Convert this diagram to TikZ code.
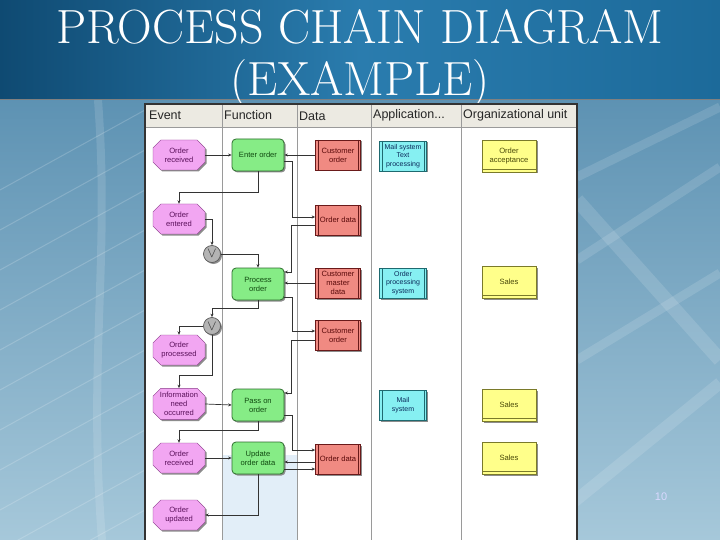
\documentclass[tikz,border=0pt]{standalone}
\usepackage{fontspec}
\usetikzlibrary{positioning,arrows.meta,shapes.misc,shadows}
\newfontfamily\diafont{Liberation Sans}

\definecolor{titleDark}{HTML}{0F4A72}
\definecolor{titleMid}{HTML}{2A7CAE}
\definecolor{titleRight}{HTML}{1C6A9A}
\definecolor{bgTop}{HTML}{4D86AA}
\definecolor{bgBottom}{HTML}{A6C8DA}
\definecolor{headFill}{HTML}{ECEAE2}
\definecolor{colLine}{HTML}{9A9A9A}
\definecolor{fnTint}{HTML}{E2EEF8}
\definecolor{evFill}{HTML}{F2A6F2}
\definecolor{evLine}{HTML}{8A3A8A}
\definecolor{evText}{HTML}{5A105A}
\definecolor{fnFill}{HTML}{86EC86}
\definecolor{fnLine}{HTML}{2E6E2E}
\definecolor{fnText}{HTML}{104A10}
\definecolor{dtFill}{HTML}{F08A82}
\definecolor{dtLine}{HTML}{6A1A1A}
\definecolor{dtText}{HTML}{5A0A0A}
\definecolor{apFill}{HTML}{86F0F2}
\definecolor{apLine}{HTML}{1E6A70}
\definecolor{apText}{HTML}{0A2A5A}
\definecolor{ouFill}{HTML}{FFFF8A}
\definecolor{ouLine}{HTML}{7A7A2A}
\definecolor{ouText}{HTML}{4A4A0A}
\definecolor{opFill}{HTML}{B4B4B4}

\tikzset{
  boxshadow/.style={drop shadow={shadow xshift=1.5pt,shadow yshift=-1.5pt,fill=black!45,opacity=1}},
  event/.style={chamfered rectangle, chamfered rectangle xsep=5pt, draw=evLine, fill=evFill,
    text=evText, minimum width=52pt, minimum height=30pt, boxshadow},
  func/.style={rectangle, rounded corners=4pt, draw=fnLine, line width=0.8pt, fill=fnFill,
    text=fnText, minimum width=52pt, minimum height=32pt, boxshadow},
  datum/.style={rectangle, draw=dtLine, line width=0.7pt, fill=dtFill, text=dtText,
    minimum width=45pt, minimum height=30pt, boxshadow,
    path picture={
      \draw[dtLine] ([xshift=2.5pt]path picture bounding box.north west) -- ([xshift=2.5pt]path picture bounding box.south west);
      \draw[dtLine] ([xshift=-2.5pt]path picture bounding box.north east) -- ([xshift=-2.5pt]path picture bounding box.south east);}},
  appl/.style={rectangle, draw=apLine, line width=0.7pt, fill=apFill, text=apText,
    minimum width=47pt, minimum height=30pt, boxshadow, font=\diafont\fontsize{7}{8.5}\selectfont,
    path picture={
      \draw[apLine] ([xshift=2.5pt]path picture bounding box.north west) -- ([xshift=2.5pt]path picture bounding box.south west);
      \draw[apLine] ([xshift=-2.5pt]path picture bounding box.north east) -- ([xshift=-2.5pt]path picture bounding box.south east);}},
  orgunit/.style={rectangle, draw=ouLine, line width=0.7pt, fill=ouFill, text=ouText,
    minimum width=54pt, minimum height=32pt, boxshadow,
    path picture={
      \draw[ouLine] ([yshift=3pt]path picture bounding box.south west) -- ([yshift=3pt]path picture bounding box.south east);}},
  operator/.style={circle, draw=black!65, line width=0.7pt, fill=opFill, minimum size=17pt, inner sep=0pt,
    font=\fontsize{15}{15}\selectfont, text=black!80, boxshadow},
  flow/.style={draw=black!80, line width=0.7pt, -{Stealth[length=3.5pt,width=3pt]}},
  headtext/.style={anchor=west, text=black!85, font=\diafont\fontsize{12.5}{14}\selectfont},
  titletext/.style={text=white, font=\rmfamily\fontsize{48}{52}\selectfont},
  stripe/.style={white, opacity=0.13, line width=9pt},
  thinstripe/.style={white, opacity=0.18, line width=1pt},
}

\begin{document}
\begin{tikzpicture}[x=1pt,y=-1pt,
  every node/.style={font=\diafont\fontsize{7.6}{9}\selectfont, align=center, inner sep=1pt}]
\useasboundingbox (0,0) rectangle (720,540);

% slide background
\shade[top color=bgTop, bottom color=bgBottom] (0,0) rectangle (720,540);
\foreach \ya/\yb in {177/107, 260/167, 360/273}
  \draw[stripe] (577,\ya) -- (720,\yb);
\draw[stripe, line width=14pt] (577,200) -- (720,360);
\draw[stripe, line width=12pt] (570,505) -- (720,383);
\foreach \k in {0,...,10}
  \draw[thinstripe] (0,190+40*\k) -- (145,110+40*\k);
\draw[stripe, line width=8pt] (98,100) .. controls (110,260) and (88,360) .. (102,540);
\shade[left color=titleDark, right color=titleRight, middle color=titleMid] (0,0) rectangle (720,100);
\draw[black!50, line width=1pt] (0,100) -- (720,100);

% title
\node[titletext] (title) at (360,59) {PROCESS CHAIN DIAGRAM\\(EXAMPLE)};

% diagram frame and lanes
\fill[white] (145,104) rectangle (577,540);
\fill[fnTint] (222,455) rectangle (297,540);
\fill[headFill] (145,104) rectangle (577,127);
\foreach \cx in {222,297,371,461}
  \draw[colLine, line width=0.9pt] (\cx,104) -- (\cx,540);
\draw[colLine] (145,127) -- (577,127);
\draw[black!80, line width=1.2pt] (145,540) -- (145,104) -- (577,104) -- (577,540);

\node[headtext] (hevent) at (148,115) {Event};
\node[headtext] (hfunc) at (223,115) {Function};
\node[headtext] (hdata) at (298,116) {Data};
\node[headtext] (happl) at (372,115) {Application...};
\node[headtext] (horg) at (462,115) {Organizational unit};

% events
\node[event] (ev1) at (179,155) {Order\\received};
\node[event] (ev2) at (179,219) {Order\\entered};
\node[event] (ev3) at (179,350) {Order\\processed};
\node[event] (ev4) at (179,404) {Information\\need\\occurred};
\node[event] (ev5) at (179,458) {Order\\received};
\node[event] (ev6) at (179,515) {Order\\updated};

% operators
\node[operator] (or1) at (212,254) {$\vee$};
\node[operator] (or2) at (212,326) {$\vee$};

% functions
\node[func] (fn1) at (258,155) {Enter order};
\node[func] (fn2) at (258,284) {Process\\order};
\node[func] (fn3) at (258,405) {Pass on\\order};
\node[func] (fn4) at (258,458) {Update\\order data};

% data
\node[datum] (dt1) at (338,155) {Customer\\order};
\node[datum] (dt2) at (338,220) {Order data};
\node[datum] (dt3) at (338,283) {Customer\\master\\data};
\node[datum] (dt4) at (338,335) {Customer\\order};
\node[datum] (dt5) at (338,459) {Order data};

% application systems
\node[appl] (ap1) at (403,156) {Mail system\\Text\\processing};
\node[appl] (ap2) at (403,283) {Order\\processing\\system};
\node[appl] (ap3) at (403,405) {Mail\\system};

% organizational units
\node[orgunit] (ou1) at (509,156) {Order\\acceptance};
\node[orgunit] (ou2) at (509,282) {Sales};
\node[orgunit] (ou3) at (509,405) {Sales};
\node[orgunit] (ou4) at (509,458) {Sales};

% control flow
\draw[flow] (ev1.east) -- (fn1.west);
\draw[flow] (fn1.south) -- ++(0,21) -| (ev2.north);
\draw[flow] (ev2.east) -| (or1.north);
\draw[flow] (or1.east) -| (fn2.north);
\draw[flow] (fn2.south) -- ++(0,8) -| (or2.north);
\draw[flow] (or2.west) -| (ev3.north);
\draw[flow] (or2.south) -- ++(0,40) -| (ev4.north);
\draw[flow] (ev4.east) -- (fn3.west);
\draw[flow] (fn3.south) -- ++(0,9) -| (ev5.north);
\draw[flow] (ev5.east) -- (fn4.west);
\draw[flow] (fn4.south) |- (ev6.east);

% information flow
\draw[flow] (dt1.west) -- (fn1.east);
\draw[flow] ([yshift=-6pt]fn1.east) -- ++(8,0) |- ([yshift=3pt]dt2.west);
\draw[flow] ([yshift=-5pt]dt2.west) -- ++(-24,0) |- ([yshift=12pt]fn2.east);
\draw[flow] (dt3.west) -- (dt3.west -| fn2.east);
\draw[flow] ([yshift=-13pt]fn2.east) -- ++(8,0) |- ([yshift=4pt]dt4.west);
\draw[flow] ([yshift=-5pt]dt4.west) -- ++(-24,0) |- ([yshift=12pt]fn3.east);
\draw[flow] ([yshift=-10pt]fn3.east) -- ++(8,0) |- ([yshift=9pt]dt5.west);
\draw[flow] ([yshift=-3pt]dt5.west) -- ([yshift=-3pt]dt5.west -| fn4.east);
\draw[flow] ([yshift=-11pt]fn4.east) -- ([yshift=-11pt]fn4.east -| dt5.west);

% slide number
\node[text=white!85!blue, font=\diafont\fontsize{11}{12}\selectfont] (pagenum) at (661,497) {10};
\end{tikzpicture}
\end{document}
